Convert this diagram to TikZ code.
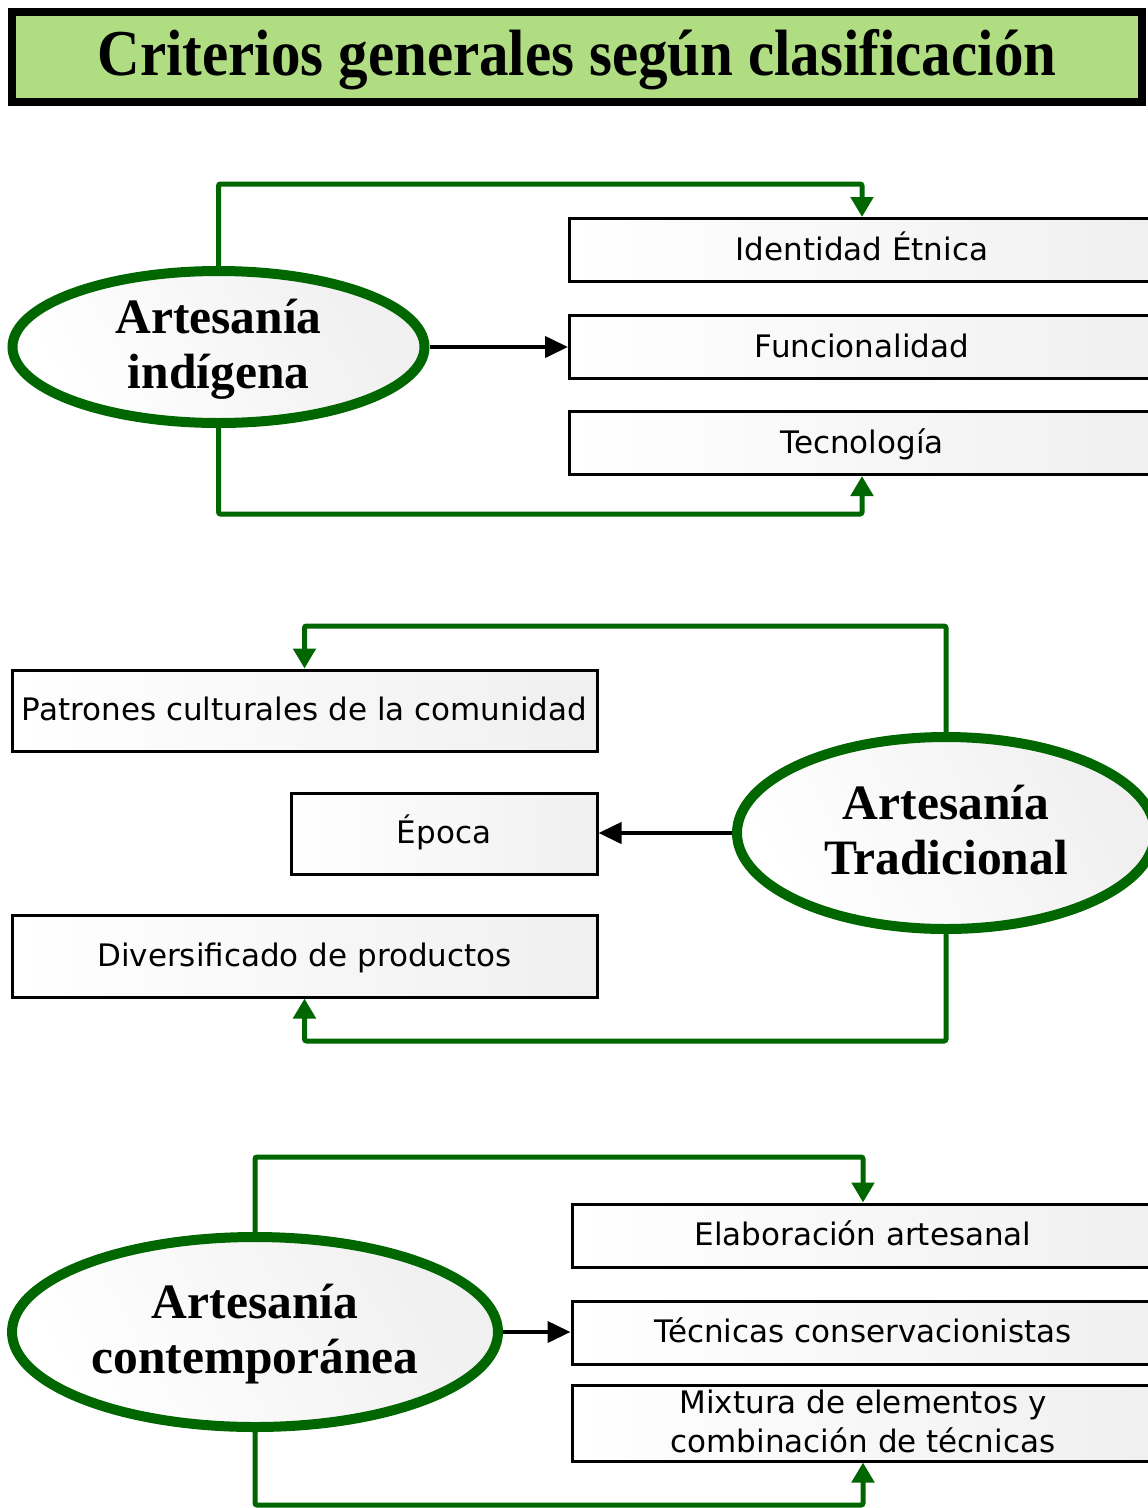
\documentclass[tikz,border=0pt]{standalone}
\usepackage{fontspec}
\setmainfont{Liberation Serif}
\newfontfamily\boxfont{DejaVu Sans}
\usetikzlibrary{shapes.geometric,arrows.meta}
\definecolor{dkgreen}{RGB}{0,102,0}
\definecolor{titlegreen}{RGB}{176,221,130}
\begin{document}
\begin{tikzpicture}[x=1pt,y=-1pt,
  titlebox/.style={draw=black, line width=8pt, fill=titlegreen, inner sep=0pt,
    minimum width=1130pt, minimum height=90pt, text height=48pt, text depth=12pt},
  critbox/.style={draw=black, line width=3pt, rectangle, inner sep=0pt,
    left color=white, right color=black!6, align=center,
    text height=26pt, text depth=6pt,
    font=\boxfont\fontsize{31}{39}\selectfont},
  class/.style={ellipse, draw=dkgreen, line width=10pt, inner sep=0pt,
    left color=white, right color=black!6, shading angle=120, align=center,
    text height=90pt, text depth=8pt,
    font=\fontsize{49.5}{55}\selectfont\bfseries},
  gline/.style={draw=dkgreen, line width=5pt, rounded corners=2pt,
    -{Triangle[width=22pt,length=20pt]}},
  bline/.style={draw=black, line width=4pt, -{Triangle[width=21pt,length=23pt]}}
]
\useasboundingbox (0,0) rectangle (1148,1508);
\clip (0,0) rectangle (1148,1508);

% title
\node[titlebox] (title) at (577,57)
  {\scalebox{1}[1.11]{\fontsize{59}{60}\selectfont\bfseries Criterios generales según clasificación}};

% --- Artesanía indígena ---
\node[class, minimum width=412pt, minimum height=152pt] (e1) at (218.5,347) {Artesanía\\indígena};
\node[critbox, minimum width=585pt, minimum height=63pt] (b1) at (862,250) {Identidad Étnica};
\node[critbox, minimum width=585pt, minimum height=63pt] (b2) at (862,347) {Funcionalidad};
\node[critbox, minimum width=585pt, minimum height=63pt] (b3) at (862,443) {Tecnología};
\coordinate (t1) at (0,184);
\coordinate (u1) at (0,514);
\draw[gline] (e1.north) -- (e1.north |- t1) -| (b1.north);
\draw[gline] (e1.south) -- (e1.south |- u1) -| (b3.south);
\draw[bline] (e1.east) -- (e1.east -| b2.west);

% --- Artesanía Tradicional ---
\node[class, minimum width=418pt, minimum height=192pt] (e2) at (946,833) {Artesanía\\Tradicional};
\node[critbox, minimum width=585pt, minimum height=81pt] (p1) at (304.5,710.5) {Patrones culturales de la comunidad};
\node[critbox, minimum width=306pt, minimum height=81pt] (p2) at (444,833.5) {Época};
\node[critbox, minimum width=585pt, minimum height=82pt] (p3) at (304.5,956) {Diversificado de productos};
\coordinate (t2) at (0,626);
\coordinate (u2) at (0,1041);
\draw[gline] (e2.north) -- (e2.north |- t2) -| (p1.north);
\draw[gline] (e2.south) -- (e2.south |- u2) -| (p3.south);
\draw[bline] (e2.west) -- (e2.west -| p2.east);

% --- Artesanía contemporánea ---
\node[class, minimum width=486pt, minimum height=190pt] (e3) at (255,1332) {Artesanía\\contemporánea};
\node[critbox, minimum width=582pt, minimum height=63pt] (c1) at (863,1235.5) {Elaboración artesanal};
\node[critbox, minimum width=582pt, minimum height=63pt] (c2) at (863,1332.5) {Técnicas conservacionistas};
\node[critbox, minimum width=582pt, minimum height=76pt, text height=64pt, text depth=6pt] (c3) at (863,1423) {Mixtura de elementos y\\combinación de técnicas};
\coordinate (t3) at (0,1157);
\coordinate (u3) at (0,1505);
\draw[gline] (e3.north) -- (e3.north |- t3) -| (c1.north);
\draw[gline] (e3.south) -- (e3.south |- u3) -| (c3.south);
\draw[bline] (e3.east) -- (e3.east -| c2.west);
\end{tikzpicture}
\end{document}
